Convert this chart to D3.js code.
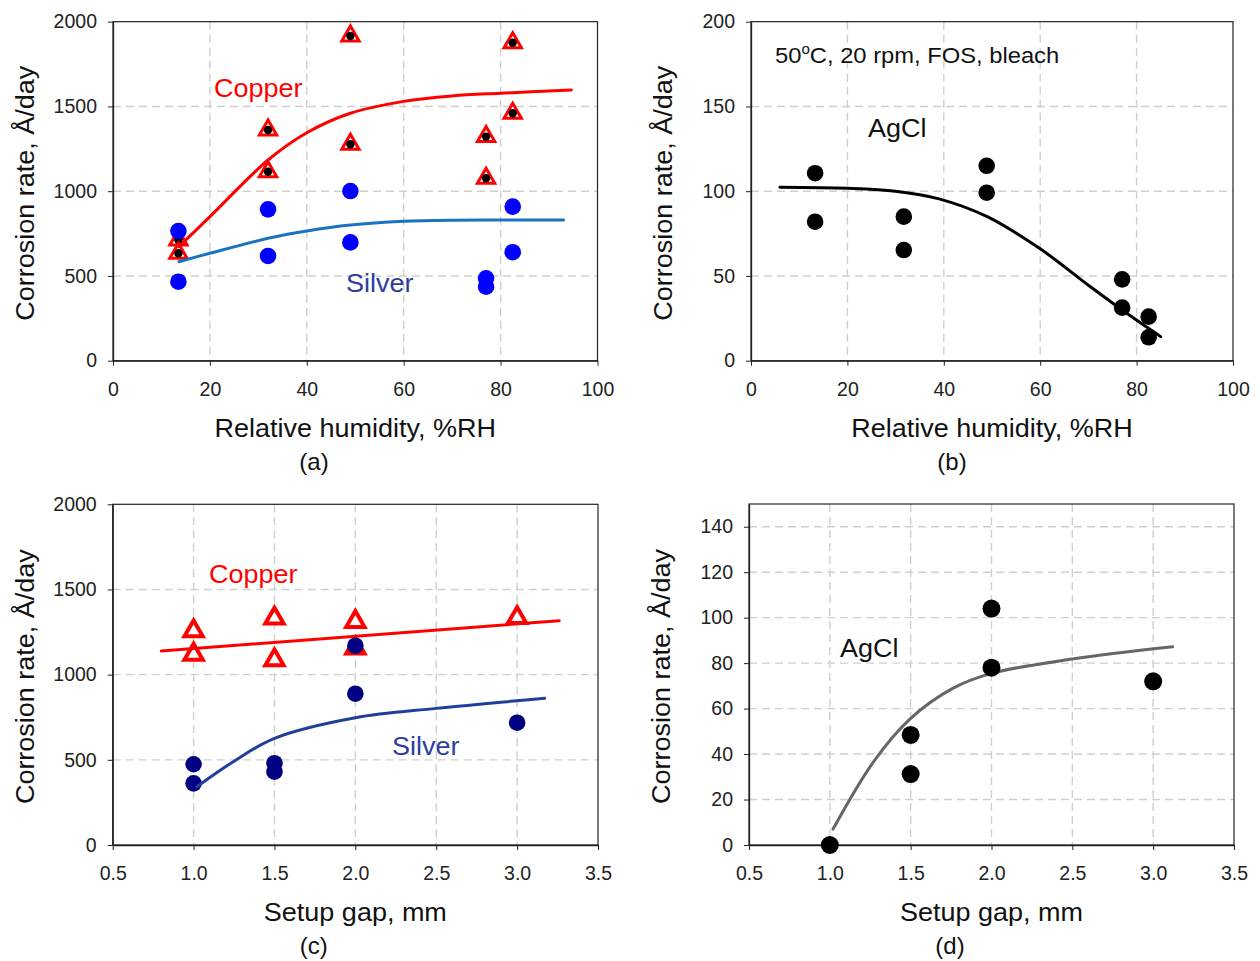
<!DOCTYPE html>
<html>
<head>
<meta charset="utf-8">
<title>Corrosion rate vs RH and setup gap</title>
<style>
body{margin:0;background:#fff;}
svg text{font-family:"Liberation Sans",Arial,sans-serif;}
</style>
</head>
<body>
<script src="https://cdnjs.cloudflare.com/ajax/libs/d3/7.8.5/d3.min.js"></script>
<script>

// tick labels
var rhTicks = [0, 20, 40, 60, 80, 100];
var gapTicks = [0.5, 1.0, 1.5, 2.0, 2.5, 3.0, 3.5];
var rateTicks = [0, 500, 1000, 1500, 2000];
var agclRhTicks = [0, 50, 100, 150, 200];
var agclGapTicks = [0, 20, 40, 60, 80, 100, 120, 140];

// (a) copper / silver vs RH
var aRH = [13.5, 13.5, 32, 32, 49, 49, 77, 77, 82.5, 82.5];
var aCopper = [712, 634, 1361, 1115, 1916, 1277, 1322, 1076, 1876, 1460];
var aSilver = [765, 466, 893, 618, 1001, 698, 486, 437, 909, 640];
var aCopperFitRH = [13.6, 20, 32, 40, 49, 60, 70, 80, 94.6];
var aCopperFit = [673, 850, 1184, 1345, 1460, 1530, 1562, 1578, 1597];
var aSilverFitRH = [13.6, 20, 32, 40, 49, 60, 70, 80, 93];
var aSilverFit = [584, 634, 722, 765, 800, 822, 829, 830, 830];

// (b) AgCl vs RH
var bRH = [13.3, 13.3, 31.7, 31.7, 48.9, 48.9, 77, 77, 82.5, 82.5];
var bAgCl = [110.6, 82, 85, 65.3, 115, 99.1, 48, 31.3, 26, 13.8];
var bFitRH = [6, 20, 30, 39, 49, 60, 70, 77, 85];
var bFit = [102.3, 101.7, 100, 95.5, 85, 66, 44.5, 29.9, 14.2];

// (c) copper / silver vs gap
var cGap = [1.0, 1.0, 1.5, 1.5, 2.0, 2.0, 3.0];
var cCopper = [1256, 1119, 1331, 1086, 1311, 1155, 1334];
var cSilver = [474, 362, 480, 430, 1170, 888, 718];
var cCopperFitGap = [0.8, 3.26];
var cCopperFit = [1139, 1317];
var cSilverFitGap = [1.02, 1.245, 1.5, 2.0, 2.5, 3.17];
var cSilverFit = [342, 489, 626, 747, 802, 861];

// (d) AgCl vs gap
var dGap = [1.0, 1.5, 1.5, 2.0, 2.0, 3.0];
var dAgCl = [0, 48.4, 31.2, 104, 78, 72];
var dFitGap = [1.02, 1.27, 1.5, 1.76, 2.0, 2.5, 3.12];
var dFit = [7, 36.6, 55.7, 68.9, 75.5, 81.8, 87.2];

var svg = d3.select('body').append('svg')
	.attr('width', 1260)
	.attr('height', 961)
	.style('display', 'block');

var SX = 1.08; // the source font is a bit wider than Arial

function zip(a, b){ return a.map(function(v, i){ return [v, b[i]]; }); }

function label(x, y, txt, size, color, anchor, rot){
	var t = svg.append('text')
		.attr('transform', 'translate(' + x + ',' + y + ')' + (rot ? ' rotate(-90)' : '') + ' scale(' + SX + ',1)')
		.attr('font-size', size)
		.attr('fill', color || '#111')
		.attr('text-anchor', anchor || 'start')
		.text(txt);
	return t;
}

function panel(box, xDom, yDom, xTicks, yTicks, xFmt, xTitle, tag){
	var x = d3.scaleLinear().domain(xDom).range([box.l, box.r]);
	var y = d3.scaleLinear().domain(yDom).range([box.b, box.t]);
	var g = svg.append('g');

	// dashed grid
	g.append('g').selectAll('line')
		.data(xTicks.filter(function(v){ return v > xDom[0] && v < xDom[1]; }))
		.enter().append('line')
		.attr('x1', function(d){ return x(d); }).attr('x2', function(d){ return x(d); })
		.attr('y1', box.t).attr('y2', box.b)
		.attr('stroke', '#cfcfcf').attr('stroke-width', 1.4).attr('stroke-dasharray', '8,5');
	g.append('g').selectAll('line')
		.data(yTicks.filter(function(v){ return v > yDom[0] && v < yDom[1]; }))
		.enter().append('line')
		.attr('y1', function(d){ return y(d); }).attr('y2', function(d){ return y(d); })
		.attr('x1', box.l).attr('x2', box.r)
		.attr('stroke', '#cfcfcf').attr('stroke-width', 1.4).attr('stroke-dasharray', '8,5');

	// frame
	g.append('rect')
		.attr('x', box.l).attr('y', box.t)
		.attr('width', box.r - box.l).attr('height', box.b - box.t)
		.attr('fill', 'none').attr('stroke', '#222').attr('stroke-width', 1.2);

	var xa = g.append('g').attr('transform', 'translate(0,' + box.b + ')')
		.call(d3.axisBottom(x).tickValues(xTicks).tickFormat(xFmt)
			.tickSize(5).tickSizeOuter(0).tickPadding(16));
	var ya = g.append('g').attr('transform', 'translate(' + box.l + ',0)')
		.call(d3.axisLeft(y).tickValues(yTicks).tickFormat(d3.format('d'))
			.tickSize(5).tickSizeOuter(0).tickPadding(11));
	[xa, ya].forEach(function(a){
		a.attr('font-size', 19.5).attr('font-family', '"Liberation Sans",Arial,sans-serif').attr('color', '#222');
		a.select('.domain').attr('stroke-width', 1.3);
	});

	var cx = (box.l + box.r) / 2, cy = (box.t + box.b) / 2;
	label(cx, box.b + 76, xTitle, 25, '#111', 'middle');
	label(box.l - 79, cy + 2, 'Corrosion rate, Å/day', 25, '#111', 'middle', true);
	svg.append('text')
		.attr('x', box.l + 201).attr('y', box.b + 109)
		.attr('text-anchor', 'middle')
		.attr('font-family', '"Liberation Serif","Times New Roman",serif')
		.attr('font-size', 24)
		.attr('fill', '#111')
		.text(tag);
	return {x: x, y: y, g: g};
}

function fitLine(p, xs, ys, color){
	var line = d3.line()
		.x(function(d){ return p.x(d[0]); })
		.y(function(d){ return p.y(d[1]); })
		.curve(d3.curveCatmullRom.alpha(0.5));
	p.g.append('path')
		.datum(zip(xs, ys))
		.attr('d', line)
		.attr('fill', 'none')
		.attr('stroke', color)
		.attr('stroke-width', 3)
		.attr('stroke-linecap', 'round');
}

function dots(p, xs, ys, r, color){
	p.g.append('g').selectAll('circle')
		.data(zip(xs, ys)).enter().append('circle')
		.attr('cx', function(d){ return p.x(d[0]); })
		.attr('cy', function(d){ return p.y(d[1]); })
		.attr('r', r)
		.attr('fill', color);
}

function triangles(p, xs, ys, size, sw, withDot){
	var sym = d3.symbol(d3.symbolTriangle).size(size);
	var gg = p.g.append('g').selectAll('g')
		.data(zip(xs, ys)).enter().append('g')
		.attr('transform', function(d){ return 'translate(' + p.x(d[0]) + ',' + p.y(d[1]) + ')'; });
	gg.append('path')
		.attr('d', sym)
		.attr('fill', '#fff')
		.attr('stroke', '#ff0000')
		.attr('stroke-width', sw)
		.attr('stroke-linejoin', 'miter');
	if(withDot){
		gg.append('circle').attr('r', 4.2).attr('fill', '#000');
	}
}

var fmtInt = d3.format('d');
var fmt1 = d3.format('.1f');

// (a)
var pa = panel({l: 113, r: 597.5, t: 21.7, b: 360.7}, [0, 100], [0, 2000],
	rhTicks, rateTicks, fmtInt, 'Relative humidity, %RH', '(a)');
triangles(pa, aRH, aCopper, 130, 3, true);
dots(pa, aRH, aSilver, 8.3, '#0000ff');
fitLine(pa, aCopperFitRH, aCopperFit, '#ff0000');
fitLine(pa, aSilverFitRH, aSilverFit, '#1874c0');
label(214, 97, 'Copper', 25, '#ff0000');
label(346, 292, 'Silver', 25, '#2c3e9c');

// (b)
var pb = panel({l: 751, r: 1233, t: 21.7, b: 360.7}, [0, 100], [0, 200],
	rhTicks, agclRhTicks, fmtInt, 'Relative humidity, %RH', '(b)');
dots(pb, bRH, bAgCl, 8.3, '#000');
fitLine(pb, bFitRH, bFit, '#000');
var note = svg.append('text')
	.attr('transform', 'translate(775,63) scale(' + SX + ',1)')
	.attr('font-size', 22).attr('fill', '#111');
note.append('tspan').text('50');
note.append('tspan').attr('font-size', 14).attr('dy', -9).text('o');
note.append('tspan').attr('dy', 9).text('C, 20 rpm, FOS, bleach');
label(868, 137, 'AgCl', 25, '#111');

// (c)
var pc = panel({l: 112.7, r: 598, t: 504.3, b: 845}, [0.5, 3.5], [0, 2000],
	gapTicks, rateTicks, fmt1, 'Setup gap, mm', '(c)');
triangles(pc, cGap, cCopper, 145, 4, false);
fitLine(pc, cCopperFitGap, cCopperFit, '#ff0000');
dots(pc, cGap, cSilver, 8.3, '#000080');
fitLine(pc, cSilverFitGap, cSilverFit, '#1f3f9a');
label(209, 583, 'Copper', 25, '#ff0000');
label(392, 755, 'Silver', 25, '#2c3e9c');

// (d)
var pd = panel({l: 749, r: 1234, t: 504, b: 845}, [0.5, 3.5], [0, 150],
	gapTicks, agclGapTicks, fmt1, 'Setup gap, mm', '(d)');
fitLine(pd, dFitGap, dFit, '#666');
dots(pd, dGap, dAgCl, 9, '#000');
label(840, 657, 'AgCl', 25, '#111');

</script>
</body>
</html>
